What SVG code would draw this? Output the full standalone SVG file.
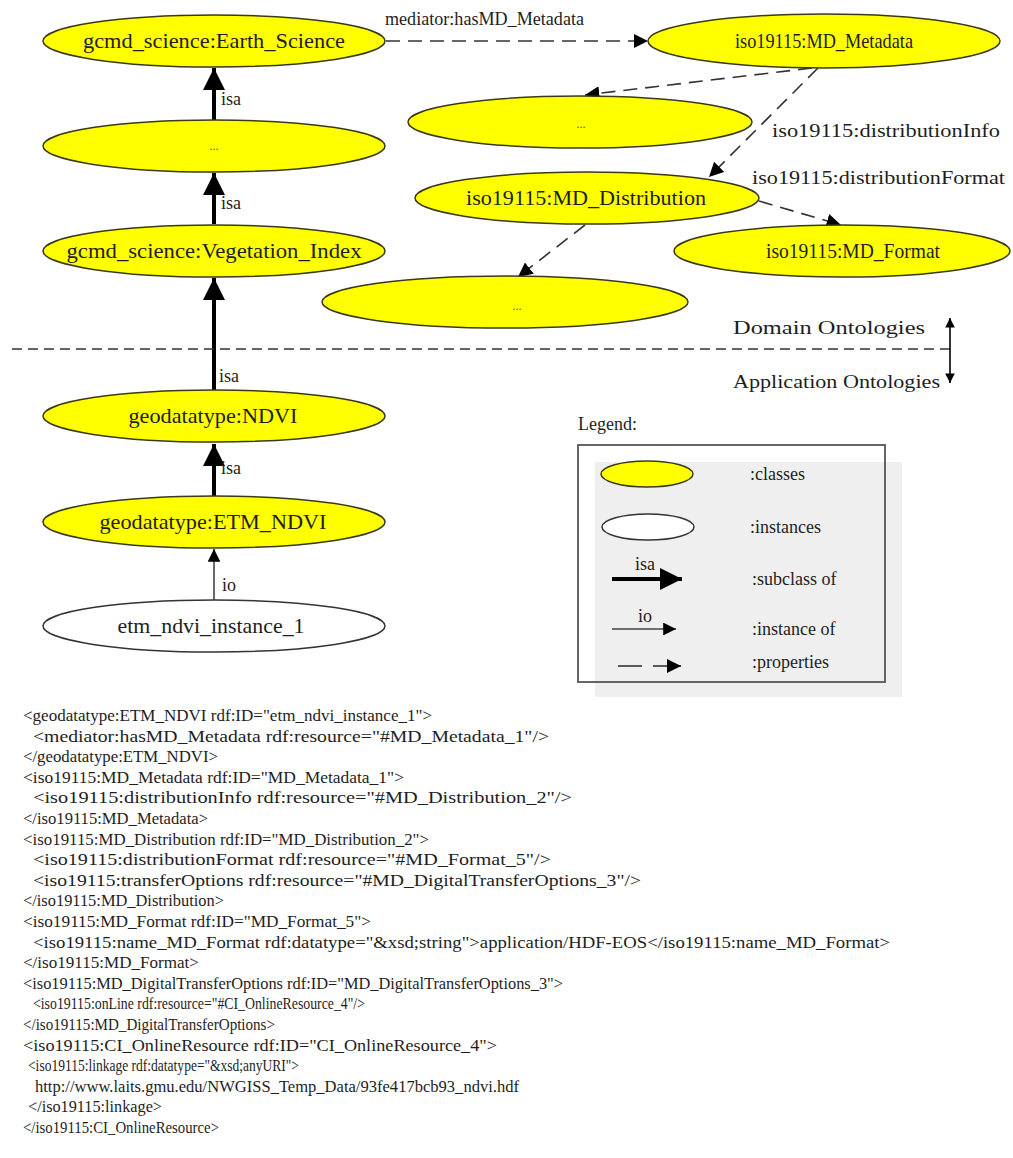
<svg xmlns="http://www.w3.org/2000/svg" width="1013" height="1158" viewBox="0 0 1013 1158">
  <style>
    text { font-family: "Liberation Serif", "Times New Roman", serif; fill: #1e1e1e; }
    .cls { fill: #ffff00; stroke: #3a3a1a; stroke-width: 1.5; }
    .ins { fill: #fff; stroke: #333; stroke-width: 1.5; }
    .node { font-size: 21px; text-anchor: middle; }
    .dots { font-size: 12px; text-anchor: middle; fill: #555; }
    .elab { font-size: 18px; }
    .isa { stroke: #000; stroke-width: 4; fill: none; }
    .io { stroke: #444; stroke-width: 1.6; fill: none; }
    .prop { stroke: #333; stroke-width: 1.6; fill: none; stroke-dasharray: 14 8; }
    .code { font-size: 16.5px; }
    .leg { font-size: 18px; }
  </style>
  <defs>
    <marker id="headIsa" viewBox="0 0 10 10" refX="10" refY="5" markerWidth="5.5" markerHeight="5.5" markerUnits="strokeWidth" orient="auto">
      <path d="M0,0 L10,5 L0,10 z" fill="#000"/>
    </marker>
    <marker id="headIo" viewBox="0 0 10 10" refX="10" refY="5" markerWidth="8" markerHeight="8" markerUnits="strokeWidth" orient="auto">
      <path d="M0,0 L10,5 L0,10 z" fill="#000"/>
    </marker>
    <marker id="headProp" viewBox="0 0 10 10" refX="10" refY="5" markerWidth="9" markerHeight="9" markerUnits="strokeWidth" orient="auto">
      <path d="M0,0 L10,5 L0,10 z" fill="#000"/>
    </marker>
    <marker id="headSmall" viewBox="0 0 10 10" refX="10" refY="5" markerWidth="6" markerHeight="6" markerUnits="strokeWidth" orient="auto">
      <path d="M0,0 L10,5 L0,10 z" fill="#000"/>
    </marker>
  </defs>

  <rect width="1013" height="1158" fill="#fff"/>

  <!-- connectors -->
  <g id="connectors">
    <line class="isa" x1="214" y1="120" x2="214" y2="68" marker-end="url(#headIsa)"/>
    <line class="isa" x1="214" y1="224" x2="214" y2="173" marker-end="url(#headIsa)"/>
    <line class="isa" x1="214" y1="390" x2="214" y2="278" marker-end="url(#headIsa)"/>
    <line class="isa" x1="214" y1="496" x2="214" y2="444" marker-end="url(#headIsa)"/>
    <line class="io" x1="214" y1="600" x2="214" y2="549" marker-end="url(#headIo)"/>
    <text class="elab" x="221" y="105">isa</text>
    <text class="elab" x="221" y="209">isa</text>
    <text class="elab" x="219" y="382">isa</text>
    <text class="elab" x="221" y="474">isa</text>
    <text class="elab" x="222" y="591">io</text>

    <line class="prop" x1="386" y1="41" x2="648" y2="41" marker-end="url(#headProp)"/>
    <text class="elab" x="385" y="25" textLength="199" lengthAdjust="spacingAndGlyphs">mediator:hasMD_Metadata</text>
    <line class="prop" x1="812" y1="68" x2="585" y2="95" marker-end="url(#headProp)"/>
    <line class="prop" x1="818" y1="68" x2="709" y2="177" marker-end="url(#headProp)"/>
    <text class="elab" x="772" y="137" textLength="228" lengthAdjust="spacingAndGlyphs">iso19115:distributionInfo</text>
    <line class="prop" x1="759" y1="201" x2="841" y2="225" marker-end="url(#headProp)"/>
    <text class="elab" x="752" y="184" textLength="253" lengthAdjust="spacingAndGlyphs">iso19115:distributionFormat</text>
    <line class="prop" x1="585" y1="225" x2="518" y2="277" marker-end="url(#headProp)"/>

    <!-- domain / application boundary -->
    <line x1="12" y1="349" x2="950" y2="349" stroke="#333" stroke-width="1.6" stroke-dasharray="10 6"/>
    <line x1="950" y1="332" x2="950" y2="318" stroke="#000" stroke-width="1.6" marker-end="url(#headSmall)"/>
    <line x1="950" y1="332" x2="950" y2="383" stroke="#000" stroke-width="1.6" marker-end="url(#headSmall)"/>
    <text class="elab" x="733" y="334" textLength="192" lengthAdjust="spacingAndGlyphs">Domain Ontologies</text>
    <text class="elab" x="733" y="388" textLength="207" lengthAdjust="spacingAndGlyphs">Application Ontologies</text>
  </g>

  <!-- nodes -->
  <g id="n-earth-science">
    <ellipse class="cls" cx="214" cy="41" rx="171" ry="26"/>
    <text class="node" x="214" y="48" textLength="262" lengthAdjust="spacingAndGlyphs">gcmd_science:Earth_Science</text>
  </g>
  <g id="n-left-dots">
    <ellipse class="cls" cx="214" cy="146" rx="171" ry="26"/>
    <text class="dots" x="214" y="150">...</text>
  </g>
  <g id="n-vegetation-index">
    <ellipse class="cls" cx="214" cy="251" rx="171" ry="26"/>
    <text class="node" x="214" y="258" textLength="295" lengthAdjust="spacingAndGlyphs">gcmd_science:Vegetation_Index</text>
  </g>
  <g id="n-ndvi">
    <ellipse class="cls" cx="214" cy="416" rx="171" ry="26"/>
    <text class="node" x="213" y="423" textLength="169" lengthAdjust="spacingAndGlyphs">geodatatype:NDVI</text>
  </g>
  <g id="n-etm-ndvi">
    <ellipse class="cls" cx="214" cy="522" rx="171" ry="26"/>
    <text class="node" x="213" y="529" textLength="227" lengthAdjust="spacingAndGlyphs">geodatatype:ETM_NDVI</text>
  </g>
  <g id="n-instance">
    <ellipse class="ins" cx="214" cy="626" rx="171" ry="26"/>
    <text class="node" x="211" y="633" textLength="187" lengthAdjust="spacingAndGlyphs">etm_ndvi_instance_1</text>
  </g>
  <g id="n-md-metadata">
    <ellipse class="cls" cx="824" cy="41" rx="176" ry="27"/>
    <text class="node" x="824" y="48" textLength="178" lengthAdjust="spacingAndGlyphs">iso19115:MD_Metadata</text>
  </g>
  <g id="n-right-dots">
    <ellipse class="cls" cx="580" cy="122" rx="172" ry="26"/>
    <text class="dots" x="581" y="128">...</text>
  </g>
  <g id="n-md-distribution">
    <ellipse class="cls" cx="587" cy="198" rx="172" ry="26"/>
    <text class="node" x="586" y="205" textLength="240" lengthAdjust="spacingAndGlyphs">iso19115:MD_Distribution</text>
  </g>
  <g id="n-md-format">
    <ellipse class="cls" cx="842" cy="251" rx="168" ry="26"/>
    <text class="node" x="853" y="258" textLength="174" lengthAdjust="spacingAndGlyphs">iso19115:MD_Format</text>
  </g>
  <g id="n-bottom-dots">
    <ellipse class="cls" cx="505" cy="302" rx="183" ry="26"/>
    <text class="dots" x="517" y="310">...</text>
  </g>

  <!-- legend -->
  <g id="legend">
    <text class="leg" x="578" y="430">Legend:</text>
    <rect x="595" y="462" width="307" height="235" fill="#efefef"/>
    <rect x="578" y="445" width="307" height="237" fill="none" stroke="#555" stroke-width="1.8"/>
    <ellipse class="cls" cx="647" cy="474" rx="46" ry="13"/>
    <text class="leg" x="750" y="480">:classes</text>
    <ellipse class="ins" cx="648" cy="527" rx="46" ry="13"/>
    <text class="leg" x="750" y="533">:instances</text>
    <line class="isa" x1="612" y1="579" x2="682" y2="579" marker-end="url(#headIsa)"/>
    <text class="elab" x="645" y="570" text-anchor="middle">isa</text>
    <text class="leg" x="752" y="585">:subclass of</text>
    <line class="io" x1="612" y1="629" x2="676" y2="629" marker-end="url(#headIo)"/>
    <text class="elab" x="645" y="622" text-anchor="middle">io</text>
    <text class="leg" x="752" y="635">:instance of</text>
    <line x1="618" y1="666" x2="642" y2="666" stroke="#333" stroke-width="1.6"/>
    <line x1="653" y1="666" x2="681" y2="666" stroke="#333" stroke-width="1.6" marker-end="url(#headProp)"/>
    <text class="leg" x="752" y="668">:properties</text>
  </g>

  <!-- RDF/XML listing -->
  <g id="listing">
    <text class="code" x="23" y="721" textLength="409" lengthAdjust="spacingAndGlyphs">&lt;geodatatype:ETM_NDVI rdf:ID="etm_ndvi_instance_1"&gt;</text>
    <text class="code" x="33" y="742" textLength="516" lengthAdjust="spacingAndGlyphs">&lt;mediator:hasMD_Metadata rdf:resource="#MD_Metadata_1"/&gt;</text>
    <text class="code" x="23" y="762" textLength="195" lengthAdjust="spacingAndGlyphs">&lt;/geodatatype:ETM_NDVI&gt;</text>
    <text class="code" x="23" y="783" textLength="381" lengthAdjust="spacingAndGlyphs">&lt;iso19115:MD_Metadata rdf:ID="MD_Metadata_1"&gt;</text>
    <text class="code" x="33" y="803" textLength="539" lengthAdjust="spacingAndGlyphs">&lt;iso19115:distributionInfo rdf:resource="#MD_Distribution_2"/&gt;</text>
    <text class="code" x="23" y="824" textLength="185" lengthAdjust="spacingAndGlyphs">&lt;/iso19115:MD_Metadata&gt;</text>
    <text class="code" x="23" y="845" textLength="406" lengthAdjust="spacingAndGlyphs">&lt;iso19115:MD_Distribution rdf:ID="MD_Distribution_2"&gt;</text>
    <text class="code" x="33" y="865" textLength="518" lengthAdjust="spacingAndGlyphs">&lt;iso19115:distributionFormat rdf:resource="#MD_Format_5"/&gt;</text>
    <text class="code" x="33" y="886" textLength="608" lengthAdjust="spacingAndGlyphs">&lt;iso19115:transferOptions rdf:resource="#MD_DigitalTransferOptions_3"/&gt;</text>
    <text class="code" x="23" y="906" textLength="201" lengthAdjust="spacingAndGlyphs">&lt;/iso19115:MD_Distribution&gt;</text>
    <text class="code" x="23" y="927" textLength="348" lengthAdjust="spacingAndGlyphs">&lt;iso19115:MD_Format rdf:ID="MD_Format_5"&gt;</text>
    <text class="code" x="33" y="948" textLength="857" lengthAdjust="spacingAndGlyphs">&lt;iso19115:name_MD_Format rdf:datatype="&amp;xsd;string"&gt;application/HDF-EOS&lt;/iso19115:name_MD_Format&gt;</text>
    <text class="code" x="23" y="968" textLength="176" lengthAdjust="spacingAndGlyphs">&lt;/iso19115:MD_Format&gt;</text>
    <text class="code" x="23" y="989" textLength="540" lengthAdjust="spacingAndGlyphs">&lt;iso19115:MD_DigitalTransferOptions rdf:ID="MD_DigitalTransferOptions_3"&gt;</text>
    <text class="code" x="33" y="1009" textLength="332" lengthAdjust="spacingAndGlyphs">&lt;iso19115:onLine rdf:resource="#CI_OnlineResource_4"/&gt;</text>
    <text class="code" x="23" y="1030" textLength="252" lengthAdjust="spacingAndGlyphs">&lt;/iso19115:MD_DigitalTransferOptions&gt;</text>
    <text class="code" x="23" y="1051" textLength="474" lengthAdjust="spacingAndGlyphs">&lt;iso19115:CI_OnlineResource rdf:ID="CI_OnlineResource_4"&gt;</text>
    <text class="code" x="28" y="1071" textLength="271" lengthAdjust="spacingAndGlyphs">&lt;iso19115:linkage rdf:datatype="&amp;xsd;anyURI"&gt;</text>
    <text class="code" x="35" y="1092" textLength="484" lengthAdjust="spacingAndGlyphs">http://www.laits.gmu.edu/NWGISS_Temp_Data/93fe417bcb93_ndvi.hdf</text>
    <text class="code" x="28" y="1112" textLength="134" lengthAdjust="spacingAndGlyphs">&lt;/iso19115:linkage&gt;</text>
    <text class="code" x="23" y="1133" textLength="196" lengthAdjust="spacingAndGlyphs">&lt;/iso19115:CI_OnlineResource&gt;</text>
  </g>
</svg>
